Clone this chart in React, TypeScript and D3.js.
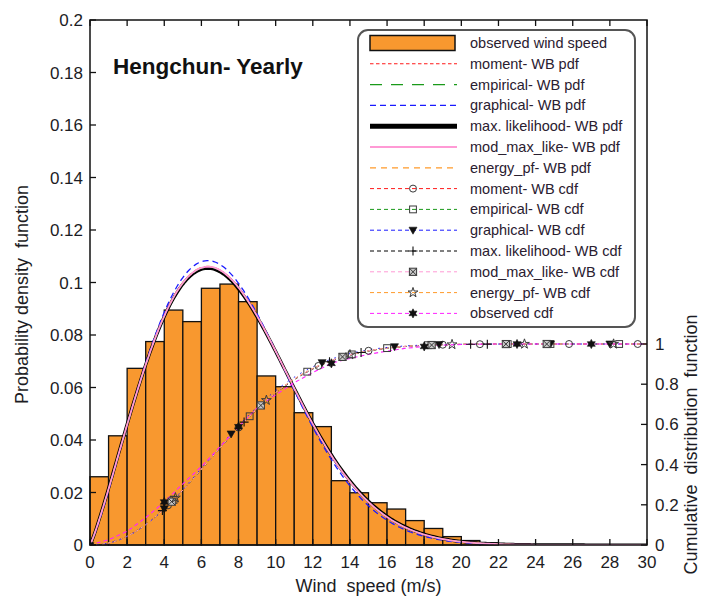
import React from "react";
import * as d3 from "d3";

// Observed wind speed histogram (1 m/s bins), probability density
const binLefts = [0, 1, 2, 3, 4, 5, 6, 7, 8, 9, 10, 11, 12, 13, 14, 15, 16, 17, 18, 19, 20, 21];
const observedDensity = [
  0.026, 0.0416, 0.0673, 0.0775, 0.0895, 0.0851, 0.0978, 0.0994, 0.0927, 0.0644, 0.0603,
  0.0504, 0.0451, 0.0245, 0.0199, 0.0161, 0.0137, 0.0093, 0.0063, 0.0032, 0.0017, 0.0008,
];

// Weibull fits (shape k, scale c in m/s) for each estimation method
const methodNames = ["moment", "empirical", "graphical", "max. likelihood", "mod_max_like", "energy_pf"];
const shapeK = [2.15, 2.15, 2.18, 2.14, 2.15, 2.15];
const scaleC = [8.5, 8.51, 8.4, 8.52, 8.5, 8.49];

// Wind speeds at which the CDF markers are placed, per method
const cdfMarkerSpeeds = [
  [4.2, 8.0, 12.3, 15.0, 19.0, 21.0, 25.8, 29.5],
  [4.5, 8.6, 11.7, 14.1, 16.0, 18.2, 22.5, 24.8, 28.5],
  [4.0, 7.6, 12.5, 16.4, 18.8, 24.8, 28.0],
  [3.9, 8.3, 12.9, 14.6, 20.5, 21.4],
  [4.4, 9.2, 13.6, 18.4, 22.4, 24.6],
  [4.6, 9.5, 14.0, 19.5, 23.4, 28.2],
];
// Bin edges at which the observed CDF is marked
const observedCdfMarkerEdges = [0, 4, 8, 13, 18, 23, 27];

const xTicks = [0, 2, 4, 6, 8, 10, 12, 14, 16, 18, 20, 22, 24, 26, 28, 30];
const yTicks = [0, 0.02, 0.04, 0.06, 0.08, 0.1, 0.12, 0.14, 0.16, 0.18, 0.2];
const yRTicks = [0, 0.2, 0.4, 0.6, 0.8, 1];

const FONT = "'Liberation Sans', Arial, sans-serif";
const TXT = "#1c1c24";

const pdfStyles = [
  { stroke: "#ff1a1a", width: 1.1, dash: "3.5,2.5" },
  { stroke: "#1a9a1a", width: 1.3, dash: "12,9" },
  { stroke: "#1a1aff", width: 1.3, dash: "6,4" },
  { stroke: "#000000", width: 3.2, dash: "" },
  { stroke: "#ff9ad5", width: 1.8, dash: "" },
  { stroke: "#ff9a2a", width: 1.2, dash: "6,5" },
];
const cdfStyles = [
  { stroke: "#ff1a1a", marker: "circle" },
  { stroke: "#1a9a1a", marker: "square" },
  { stroke: "#1a1aff", marker: "triangle" },
  { stroke: "#000000", marker: "plus" },
  { stroke: "#ff9ad5", marker: "boxx" },
  { stroke: "#ff9a2a", marker: "star" },
];

function weibullPdf(v: number, k: number, c: number) {
  if (v <= 0) return 0;
  const r = v / c;
  return (k / c) * Math.pow(r, k - 1) * Math.exp(-Math.pow(r, k));
}
function weibullCdf(v: number, k: number, c: number) {
  if (v <= 0) return 0;
  return 1 - Math.exp(-Math.pow(v / c, k));
}

function hexagramPath(r: number) {
  const pts: string[] = [];
  for (let i = 0; i < 12; i++) {
    const a = (Math.PI / 6) * i - Math.PI / 2;
    const rr = i % 2 === 0 ? r : r * 0.55;
    pts.push(`${(rr * Math.cos(a)).toFixed(2)},${(rr * Math.sin(a)).toFixed(2)}`);
  }
  return "M" + pts.join("L") + "Z";
}

const starPath = d3.symbol(d3.symbolStar, 30)() as string;

function Marker({ type, cx, cy }: { type: string; cx: number; cy: number }) {
  const t = `translate(${cx},${cy})`;
  const s = "#3a3a3a";
  switch (type) {
    case "circle":
      return <circle cx={cx} cy={cy} r={3.5} fill="none" stroke={s} strokeWidth={1} />;
    case "square":
      return <rect x={cx - 3.4} y={cy - 3.4} width={6.8} height={6.8} fill="none" stroke={s} strokeWidth={1} />;
    case "triangle":
      return <path transform={t} d="M-4,-3L4,-3L0,4Z" fill="#111" stroke="#111" strokeWidth={0.6} />;
    case "plus":
      return <path transform={t} d="M-4.5,0H4.5M0,-4.5V4.5" stroke="#111" strokeWidth={1.1} />;
    case "boxx":
      return (
        <g transform={t}>
          <rect x={-3.6} y={-3.6} width={7.2} height={7.2} fill="#c8c8c8" stroke={s} strokeWidth={1} />
          <path d="M-3.6,-3.6L3.6,3.6M3.6,-3.6L-3.6,3.6" stroke={s} strokeWidth={1} />
        </g>
      );
    case "star":
      return <path transform={t} d={starPath} fill="none" stroke={s} strokeWidth={1} />;
    case "hexagram":
      return <path transform={t} d={hexagramPath(4.6)} fill="#111" stroke="#111" strokeWidth={0.6} />;
    default:
      return null;
  }
}

export default function App() {
  const left = 90, right = 647, top = 20, bottom = 545;
  const x = d3.scaleLinear().domain([0, 30]).range([left, right]);
  const y = d3.scaleLinear().domain([0, 0.2]).range([bottom, top]);
  const yR = d3.scaleLinear().domain([0, 1]).range([bottom, 344]);

  // evaluation grid for the fitted curves
  const grid = d3.range(0, 30.001, 0.1);
  const pdfLine = d3.line<[number, number]>().x((d) => x(d[0])).y((d) => y(d[1]));
  const cdfLine = d3.line<[number, number]>().x((d) => x(d[0])).y((d) => yR(d[1]));

  // observed cumulative distribution at bin edges
  const total = d3.sum(observedDensity);
  const obsEdges: [number, number][] = [[0, 0]];
  let acc = 0;
  binLefts.forEach((b, i) => {
    acc += observedDensity[i];
    obsEdges.push([b + 1, acc / total]);
  });
  obsEdges.push([30, 1]);
  const obsCdfAt = (v: number) => {
    const p = obsEdges.find((e) => e[0] >= v);
    return p ? p[1] : 1;
  };

  const legendRows = [
    { label: "observed wind speed", kind: "bar" },
    ...methodNames.map((m, i) => ({ label: `${m}- WB pdf`, kind: "pdf", i })),
    ...methodNames.map((m, i) => ({ label: `${m}- WB cdf`, kind: "cdf", i })),
    { label: "observed cdf", kind: "obs" },
  ] as { label: string; kind: string; i?: number }[];

  const lgX = 358, lgY = 30, lgW = 277, lgH = 297;
  const rowY0 = 43, rowDy = 20.8;
  const sx0 = 370, sx1 = 457, smid = 413;

  return (
    <svg
      width={705}
      height={597}
      style={{ position: "absolute", left: 0, top: 0, background: "#fff" }}
      fontFamily={FONT}
    >
      <defs>
        <clipPath id="plotArea">
          <rect x={left} y={top} width={right - left} height={bottom - top} />
        </clipPath>
      </defs>
      <rect x={0} y={0} width={705} height={597} fill="#fff" />

      {/* histogram */}
      {binLefts.map((b, i) => (
        <rect
          key={b}
          x={x(b)}
          y={y(observedDensity[i])}
          width={x(b + 1) - x(b)}
          height={bottom - y(observedDensity[i])}
          fill="#f8982f"
          stroke="#111"
          strokeWidth={1.3}
        />
      ))}

      <g clipPath="url(#plotArea)">
        {/* fitted pdf curves */}
        {[3, 0, 1, 2, 5, 4].map((i) => (
          <path
            key={"pdf" + i}
            d={pdfLine(grid.map((v) => [v, weibullPdf(v, shapeK[i], scaleC[i])]))!}
            fill="none"
            stroke={pdfStyles[i].stroke}
            strokeWidth={pdfStyles[i].width}
            strokeDasharray={pdfStyles[i].dash}
          />
        ))}

        {/* fitted cdf curves */}
        {[3, 0, 1, 5, 4, 2].map((i) => (
          <path
            key={"cdf" + i}
            d={cdfLine(grid.map((v) => [v, weibullCdf(v, shapeK[i], scaleC[i])]))!}
            fill="none"
            stroke={cdfStyles[i].stroke}
            strokeWidth={1}
            strokeDasharray={i === 2 ? "1.5,6" : "3,3"}
          />
        ))}
        <path d={cdfLine(obsEdges)!} fill="none" stroke="#ff22ff" strokeWidth={1.1} strokeDasharray="4,3" />

        {/* cdf markers */}
        {cdfMarkerSpeeds.map((arr, i) =>
          arr.map((v, j) => (
            <Marker
              key={`m${i}-${j}`}
              type={cdfStyles[i].marker}
              cx={x(v)}
              cy={yR(weibullCdf(v, shapeK[i], scaleC[i]))}
            />
          ))
        )}
        {observedCdfMarkerEdges.map((v, j) => (
          <Marker key={"ob" + j} type="hexagram" cx={x(v)} cy={yR(obsCdfAt(v))} />
        ))}
      </g>

      {/* frame */}
      <rect x={left} y={top} width={right - left} height={bottom - top} fill="none" stroke="#111" strokeWidth={1.5} />

      {/* x ticks, bottom and top */}
      {xTicks.map((t) => (
        <g key={"x" + t}>
          <line x1={x(t)} x2={x(t)} y1={bottom} y2={bottom - 6} stroke="#111" strokeWidth={1.3} />
          <line x1={x(t)} x2={x(t)} y1={top} y2={top + 6} stroke="#111" strokeWidth={1.3} />
          <text x={x(t)} y={bottom + 23} fontSize={17} textAnchor="middle" fill={TXT}>
            {t}
          </text>
        </g>
      ))}

      {/* left y ticks */}
      {yTicks.map((t) => (
        <g key={"y" + t}>
          <line x1={left} x2={left + 6} y1={y(t)} y2={y(t)} stroke="#111" strokeWidth={1.3} />
          <text x={left - 7} y={y(t) + 6} fontSize={17} textAnchor="end" fill={TXT}>
            {String(+t.toFixed(2))}
          </text>
        </g>
      ))}

      {/* right y ticks (cdf) */}
      {yRTicks.map((t) => (
        <g key={"yr" + t}>
          <line x1={right} x2={right - 6} y1={yR(t)} y2={yR(t)} stroke="#111" strokeWidth={1.3} />
          <text x={right + 8} y={yR(t) + 6} fontSize={17} textAnchor="start" fill={TXT}>
            {String(+t.toFixed(1))}
          </text>
        </g>
      ))}

      {/* axis titles */}
      <text x={(left + right) / 2} y={592} fontSize={18} textAnchor="middle" fill={TXT} xmlSpace="preserve">
        Wind  speed (m/s)
      </text>
      <text
        transform={`translate(28,${(top + bottom) / 2 + 12}) rotate(-90)`}
        fontSize={18}
        textAnchor="middle"
        fill={TXT}
        xmlSpace="preserve"
      >
        Probability density  function
      </text>
      <text
        transform={`translate(697,${(yR(0) + yR(1)) / 2}) rotate(-90)`}
        fontSize={18}
        textAnchor="middle"
        fill={TXT}
        xmlSpace="preserve"
      >
        Cumulative  distribution  function
      </text>

      {/* title */}
      <text x={113} y={74} fontSize={22.5} fontWeight="bold" fill="#111">
        Hengchun- Yearly
      </text>

      {/* legend */}
      <rect x={lgX} y={lgY} width={lgW} height={lgH} rx={10} ry={10} fill="#fff" stroke="#555" strokeWidth={2} />
      {legendRows.map((r, idx) => {
        const ry = rowY0 + idx * rowDy;
        let sample: React.ReactNode = null;
        if (r.kind === "bar") {
          sample = <rect x={sx0} y={ry - 7.5} width={sx1 - sx0 - 2} height={15} fill="#f8982f" stroke="#111" strokeWidth={1.5} />;
        } else if (r.kind === "pdf") {
          const st = pdfStyles[r.i!];
          sample = (
            <line x1={sx0} x2={sx1} y1={ry} y2={ry} stroke={st.stroke} strokeWidth={r.i === 3 ? 5 : st.width} strokeDasharray={st.dash} />
          );
        } else if (r.kind === "cdf") {
          const st = cdfStyles[r.i!];
          sample = (
            <g>
              <line x1={sx0} x2={sx1} y1={ry} y2={ry} stroke={st.stroke} strokeWidth={1} strokeDasharray="4,3" />
              <Marker type={st.marker} cx={smid} cy={ry} />
            </g>
          );
        } else {
          sample = (
            <g>
              <line x1={sx0} x2={sx1} y1={ry} y2={ry} stroke="#ff22ff" strokeWidth={1} strokeDasharray="4,3" />
              <Marker type="hexagram" cx={smid} cy={ry} />
            </g>
          );
        }
        return (
          <g key={"lg" + idx}>
            {sample}
            <text x={470} y={ry + 5} fontSize={14.5} fill="#2a2030">
              {r.label}
            </text>
          </g>
        );
      })}
    </svg>
  );
}
